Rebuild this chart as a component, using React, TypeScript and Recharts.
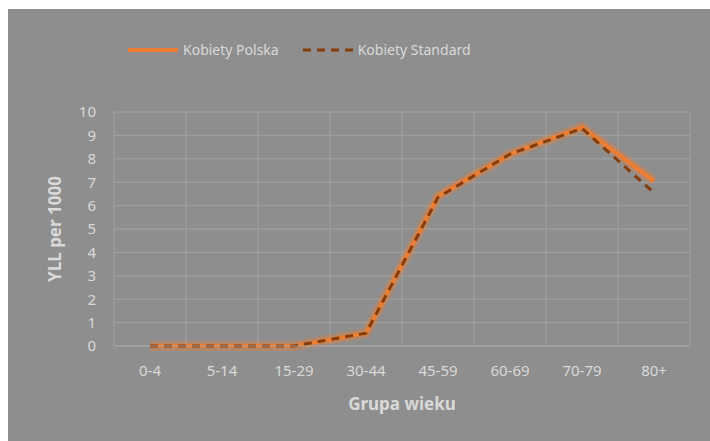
import React from 'react';
import { LineChart, Line, XAxis, YAxis, CartesianGrid, Legend } from 'recharts';

const categories = ['0-4', '5-14', '15-29', '30-44', '45-59', '60-69', '70-79', '80+'];
const polska = [0, 0, 0, 0.55, 6.4, 8.2, 9.35, 7.05];
const standard = [0, 0, 0, 0.55, 6.35, 8.2, 9.3, 6.55];
const yTicks = [0, 1, 2, 3, 4, 5, 6, 7, 8, 9, 10];

const data = categories.map((c, i) => ({ name: c, polska: polska[i], standard: standard[i] }));

const BG = '#8e8e8e';
const GRID = '#a3a3a3';
const TEXT = '#d9d9d9';
const ORANGE = '#ed7d31';
const BROWN = '#843c0c';
const FONT = "'Noto Sans', sans-serif";

const legendItems = [
  { label: 'Kobiety Polska', color: ORANGE, dash: undefined as string | undefined, width: 4 },
  { label: 'Kobiety Standard', color: BROWN, dash: '8 6', width: 3 },
];

const renderLegend = () => (
  <div style={{ display: 'flex', alignItems: 'center', fontFamily: FONT, fontSize: 14, color: TEXT }}>
    {legendItems.map((it) => (
      <div key={it.label} style={{ display: 'flex', alignItems: 'center', marginRight: 24 }}>
        <svg width={50} height={10} style={{ marginRight: 5 }}>
          <line x1={0} y1={5} x2={50} y2={5} stroke={it.color} strokeWidth={it.width} strokeDasharray={it.dash} />
        </svg>
        <span>{it.label}</span>
      </div>
    ))}
  </div>
);

// grid lines sit between categories, like Excel
const verticalBoundaries = ({ offset }: any) => {
  const out: number[] = [];
  for (let i = 0; i <= categories.length; i++) out.push(offset.left + (i * offset.width) / categories.length);
  return out;
};

// half a category slot on each side so points sit in the middle of their slot
const PLOT_W = 576;
const HALF_SLOT = PLOT_W / categories.length / 2;

export default function App() {
  return (
    <div style={{ position: 'absolute', left: 8, top: 9, width: 702, height: 432, background: BG }}>
      <LineChart width={702} height={432} data={data} margin={{ top: 84, right: 20, bottom: 0, left: 0 }}>
        <CartesianGrid stroke={GRID} verticalCoordinatesGenerator={verticalBoundaries} />
        <XAxis
          dataKey="name"
          height={95}
          tickSize={0}
          tickMargin={19}
          padding={{ left: HALF_SLOT, right: HALF_SLOT }}
          axisLine={{ stroke: GRID }}
          tick={{ fill: TEXT, fontSize: 15, fontFamily: FONT }}
          label={{ value: 'Grupa wieku', position: 'center', dy: 10, fill: TEXT, fontSize: 17, fontWeight: 700, fontFamily: FONT }}
        />
        <YAxis
          width={106}
          domain={[0, 10]}
          ticks={yTicks}
          tickSize={0}
          tickMargin={18}
          axisLine={false}
          tick={{ fill: TEXT, fontSize: 15, fontFamily: FONT }}
          label={{ value: 'YLL per 1000', angle: -90, position: 'center', dx: -6, fill: TEXT, fontSize: 17, fontWeight: 700, fontFamily: FONT }}
        />
        <Legend content={renderLegend} verticalAlign="top" wrapperStyle={{ left: 120, top: 31, width: 'auto' }} />
        <Line dataKey="polska" stroke={ORANGE} strokeOpacity={0.35} strokeWidth={10} dot={false} legendType="none" isAnimationActive={false} />
        <Line dataKey="polska" stroke={ORANGE} strokeWidth={4} dot={false} isAnimationActive={false} />
        <Line dataKey="standard" stroke={BROWN} strokeWidth={3} strokeDasharray="8 6" dot={false} isAnimationActive={false} />
      </LineChart>
    </div>
  );
}
